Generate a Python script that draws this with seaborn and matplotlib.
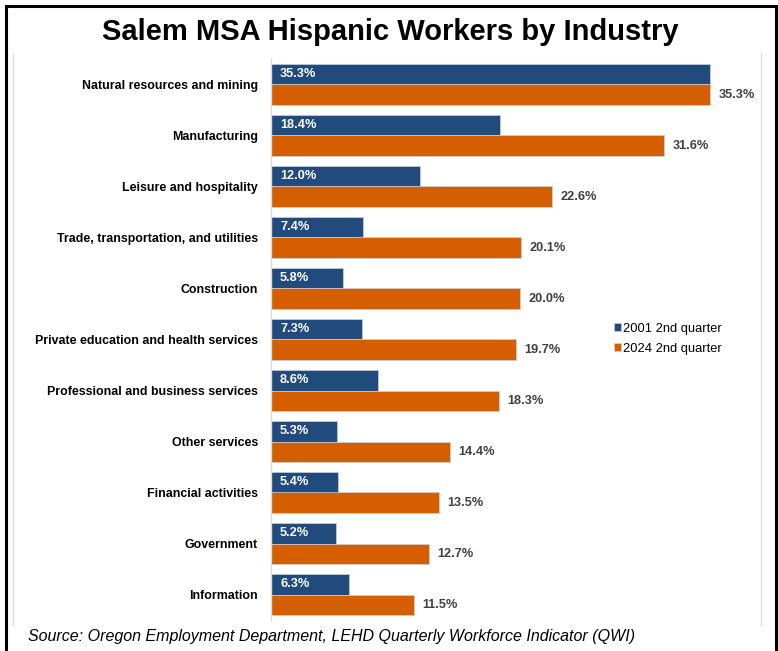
import matplotlib.pyplot as plt
import matplotlib.patches as mpatches
import matplotlib.lines as mlines
import pandas as pd
import seaborn as sns

# Share of workers who are Hispanic, Salem MSA, by industry
industries = [
    "Natural resources and mining",
    "Manufacturing",
    "Leisure and hospitality",
    "Trade, transportation, and utilities",
    "Construction",
    "Private education and health services",
    "Professional and business services",
    "Other services",
    "Financial activities",
    "Government",
    "Information",
]
q2_2001 = [35.3, 18.4, 12.0, 7.4, 5.8, 7.3, 8.6, 5.3, 5.4, 5.2, 6.3]
q2_2024 = [35.3, 31.6, 22.6, 20.1, 20.0, 19.7, 18.3, 14.4, 13.5, 12.7, 11.5]
periods = ["2001 2nd quarter", "2024 2nd quarter"]

df = pd.DataFrame({
    "industry": industries * 2,
    "share": q2_2001 + q2_2024,
    "period": [periods[0]] * len(industries) + [periods[1]] * len(industries),
})

navy = "#214A7D"
orange = "#D55E00"

sns.set_style("white")
plt.rcParams["font.family"] = ["Liberation Sans", "DejaVu Sans"]
plt.rcParams["text.color"] = "black"

W, H = 778, 651
fig = plt.figure(figsize=(W / 100, H / 100), dpi=100)
ax = fig.add_axes([271 / W, 1 - 620 / H, 490 / W, 561 / H])

sns.barplot(data=df, y="industry", x="share", hue="period", hue_order=periods,
            palette=[navy, orange], saturation=1, width=0.8, orient="h", ax=ax,
            edgecolor="#c9d2de", linewidth=0.5)

ax.set_xlim(0, 39.4)
ax.set_ylim(len(industries) - 0.5, -0.5)
ax.set_xlabel("")
ax.set_ylabel("")
ax.set_xticks([])
ax.tick_params(axis="y", length=0, pad=9.5)
for lbl in ax.get_yticklabels():
    lbl.set_fontweight("bold")
    lbl.set_fontsize(8.9)
    lbl.set_color("black")
for s in ["top", "right", "bottom"]:
    ax.spines[s].set_visible(False)
ax.spines["left"].set_color("#d9d9d9")
ax.spines["left"].set_linewidth(1)

# value labels: 2001 inside the bar at its start, 2024 just past the bar end
navy_bars, orange_bars = ax.containers[0], ax.containers[1]
for bar, v in zip(navy_bars, q2_2001):
    ax.annotate(f"{v:.1f}%", xy=(0, bar.get_y() + bar.get_height() / 2),
                xytext=(6.5, 0), textcoords="offset points",
                ha="left", va="center", color="white",
                fontweight="bold", fontsize=9.2)
ax.bar_label(orange_bars, labels=[f"{v:.1f}%" for v in q2_2024], padding=6,
             color="#404040", fontweight="bold", fontsize=9.2)

ax.legend(loc="upper left", bbox_to_anchor=(602 / W, 1 - 311 / H),
          bbox_transform=fig.transFigure, frameon=False, fontsize=9.3,
          handlelength=0.55, handleheight=0.55, handletextpad=0.2,
          labelspacing=0.62)

fig.text(390 / W, 1 - 32 / H, "Salem MSA Hispanic Workers by Industry",
         ha="center", va="center", fontsize=21, fontweight="bold", color="black")
fig.text(28 / W, 1 - 637 / H,
         "Source: Oregon Employment Department, LEHD Quarterly Workforce Indicator (QWI)",
         ha="left", va="center", fontsize=11.5, style="italic", color="black")

# inner chart-area edges and outer frame
for x in (13, 761):
    fig.add_artist(mlines.Line2D([x / W, x / W], [1 - 53 / H, 1 - 625 / H],
                                 transform=fig.transFigure, color="#dcdcdc", lw=1))
fig.add_artist(mpatches.Rectangle((6.5 / W, -0.1), (775.5 - 6.5) / W, 0.1 + 1 - 6 / H,
                                  transform=fig.transFigure, fill=False,
                                  edgecolor="black", lw=2.2, clip_on=False))

fig.savefig("out.png", dpi=100)
